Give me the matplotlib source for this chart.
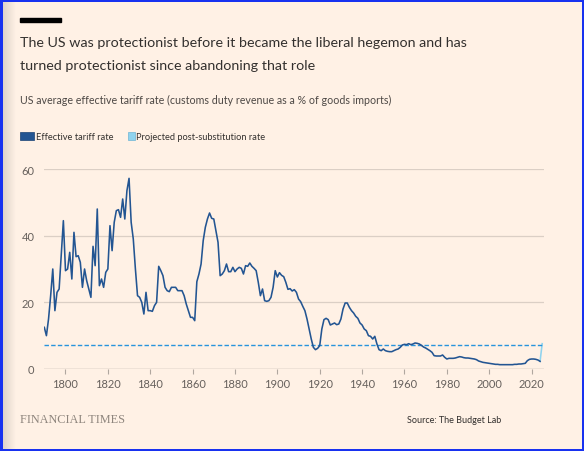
import numpy as np
import matplotlib.pyplot as plt
from matplotlib.patches import Rectangle
from matplotlib.colors import LinearSegmentedColormap

# US average effective tariff rate, %
years = np.arange(1790, 2025)
tariff = [
    12.5, 10.0, 15.0, 22.0, 30.0, 17.5, 23.0, 24.0, 34.0, 44.5,   # 1790s
    29.5, 30.0, 35.0, 27.0, 41.0, 33.7, 34.0, 32.0, 24.5, 30.0,   # 1800s
    26.5, 24.0, 21.5, 36.8, 31.0, 48.0, 25.0, 27.0, 24.5, 29.0,   # 1810s
    30.0, 43.0, 35.5, 44.0, 47.5, 47.8, 45.5, 51.0, 45.0, 53.5,   # 1820s
    57.2, 44.0, 39.0, 30.0, 22.0, 21.5, 20.0, 16.5, 23.0, 17.5,   # 1830s
    17.5, 17.3, 19.0, 20.0, 30.8, 29.5, 28.0, 24.5, 23.5, 23.2,   # 1840s
    24.5, 24.5, 24.5, 23.5, 23.5, 23.5, 22.0, 19.5, 17.5, 15.5,   # 1850s
    15.5, 14.5, 26.2, 28.5, 31.5, 38.5, 42.5, 45.0, 46.8, 45.2,   # 1860s
    45.0, 41.5, 38.0, 28.0, 28.5, 29.5, 31.5, 29.2, 29.2, 30.5,   # 1870s
    29.2, 30.0, 30.5, 30.2, 28.5, 31.0, 30.8, 31.8, 30.8, 30.2,   # 1880s
    29.5, 26.0, 22.0, 24.0, 20.5, 20.3, 20.5, 21.5, 24.5, 29.5,   # 1890s
    27.6, 28.9, 28.1, 27.7, 26.0, 23.9, 24.1, 23.4, 23.8, 23.0,   # 1900s
    21.0, 20.2, 18.8, 17.5, 15.0, 12.0, 9.0, 6.5, 5.8, 6.2,       # 1910s
    7.0, 12.0, 14.8, 15.2, 14.8, 13.2, 13.5, 13.8, 13.3, 13.5,    # 1920s
    15.0, 18.0, 19.8, 19.8, 18.5, 17.5, 16.8, 15.8, 15.2, 13.8,   # 1930s
    13.2, 12.0, 11.5, 10.0, 9.8, 9.0, 9.8, 7.5, 5.8, 5.5,         # 1940s
    6.0, 5.5, 5.3, 5.2, 5.2, 5.5, 5.8, 6.0, 6.5, 7.2,             # 1950s
    7.4, 7.3, 7.6, 7.3, 7.5, 7.8, 7.7, 7.5, 7.1, 6.6,             # 1960s
    6.3, 5.9, 5.5, 5.0, 4.0, 3.9, 3.9, 3.9, 4.2, 3.5,             # 1970s
    3.0, 3.2, 3.2, 3.2, 3.3, 3.5, 3.7, 3.6, 3.4, 3.3,             # 1980s
    3.3, 3.2, 3.1, 3.0, 2.8, 2.4, 2.2, 2.0, 1.9, 1.8,             # 1990s
    1.7, 1.6, 1.5, 1.4, 1.4, 1.3, 1.3, 1.3, 1.3, 1.3,             # 2000s
    1.3, 1.3, 1.4, 1.4, 1.5, 1.5, 1.6, 1.7, 2.5, 2.9,             # 2010s
    3.0, 3.0, 2.9, 2.7, 2.3,                                      # 2020s
]
proj_years = [2024, 2025]
proj_rate = [2.3, 7.6]
post_sub_rate = 7.2

yticks = [0, 20, 40, 60]
xticks = list(range(1800, 2021, 20))

title_lines = ["The US was protectionist before it became the liberal hegemon and has",
               "turned protectionist since abandoning that role"]
subtitle = "US average effective tariff rate (customs duty revenue as a % of goods imports)"
legend_labels = ["Effective tariff rate", "Projected post-substitution rate"]
source = "Source: The Budget Lab"

bg = '#fff1e5'
dark = '#235592'
light = '#8fd3ee'
dashc = '#2894dc'
W, H = 584, 452

plt.rcParams['font.family'] = ['Lato', 'DejaVu Sans']

fig = plt.figure(figsize=(W / 100, H / 100), dpi=100, facecolor=bg)

def fx(px):
    return px / W

def fy(py):
    return 1 - py / H

# left shadow strip
sh = fig.add_axes([fx(2), 0, fx(14), 1])
cm = LinearSegmentedColormap.from_list('sh', ['#ddd2c8', bg])
sh.imshow(np.linspace(0, 1, 50)[None, :], cmap=cm, aspect='auto')
sh.axis('off')

ax = fig.add_axes([fx(44.3), fy(370), fx(500), 200 / H])
ax.set_facecolor(bg)

ax.plot(years, tariff, color=dark, lw=1.15, solid_joinstyle='round', zorder=4)
ax.plot(proj_years, proj_rate, color=light, lw=1.15, zorder=3)
ax.hlines(post_sub_rate, years[0], proj_years[-1], color=dashc, lw=1.0,
          linestyles=(0, (3.2, 1.6)), zorder=3)

ax.set_xlim(1790, 2026)
ax.set_ylim(0, 60)
ax.set_yticks(yticks)
ax.set_xticks(xticks)
for s in ax.spines.values():
    s.set_visible(False)
for v in yticks[1:]:
    ax.axhline(v, color='#dbcfc5', lw=0.9, zorder=1)
ax.axhline(0, color='#b0a79f', lw=1.0, zorder=2)
ax.tick_params(axis='y', length=0, pad=7, labelsize=8, labelcolor='#66605c')
ax.tick_params(axis='x', length=3.5, width=0.8, color='#b0a79f', pad=3,
               labelsize=8, labelcolor='#66605c')

# top rule and header
fig.add_artist(Rectangle((fx(20), fy(22.5)), fx(41), 3.5 / H, transform=fig.transFigure,
                         color='#000000'))
fig.text(fx(20.5), fy(46.7), title_lines[0], fontsize=10.3, color='#33302e', va='baseline')
fig.text(fx(20.5), fy(70), title_lines[1], fontsize=10.3, color='#33302e', va='baseline')
fig.text(fx(20.5), fy(104), subtitle, fontsize=7.7, color='#4d4845', va='baseline')

# legend
fig.add_artist(Rectangle((fx(20), fy(140.5)), fx(14), 7.5 / H, transform=fig.transFigure,
                         facecolor=dark, edgecolor='#1a4274', lw=0.5))
fig.text(fx(36.5), fy(140.5), legend_labels[0], fontsize=6.7, color='#33302e', va='baseline')
fig.add_artist(Rectangle((fx(127.5), fy(140.5)), fx(7), 7.5 / H, transform=fig.transFigure,
                         facecolor=light, edgecolor='#6fb5d4', lw=0.5))
fig.text(fx(136.5), fy(140.5), legend_labels[1], fontsize=6.7, color='#33302e', va='baseline')

# footer
fig.text(fx(20), fy(423.5), "FINANCIAL TIMES", family='Liberation Serif', fontsize=8.8,
         color='#8e857d', va='baseline')
fig.text(fx(501.5), fy(423.5), source, fontsize=6.5, color='#33302e', ha='right',
         va='baseline')

# blue frame
fig.add_artist(Rectangle((0, 0), 1, 1, transform=fig.transFigure, fill=False,
                         edgecolor='#1832f0', lw=3.6))

fig.savefig('out.png', dpi=100, facecolor=bg)
